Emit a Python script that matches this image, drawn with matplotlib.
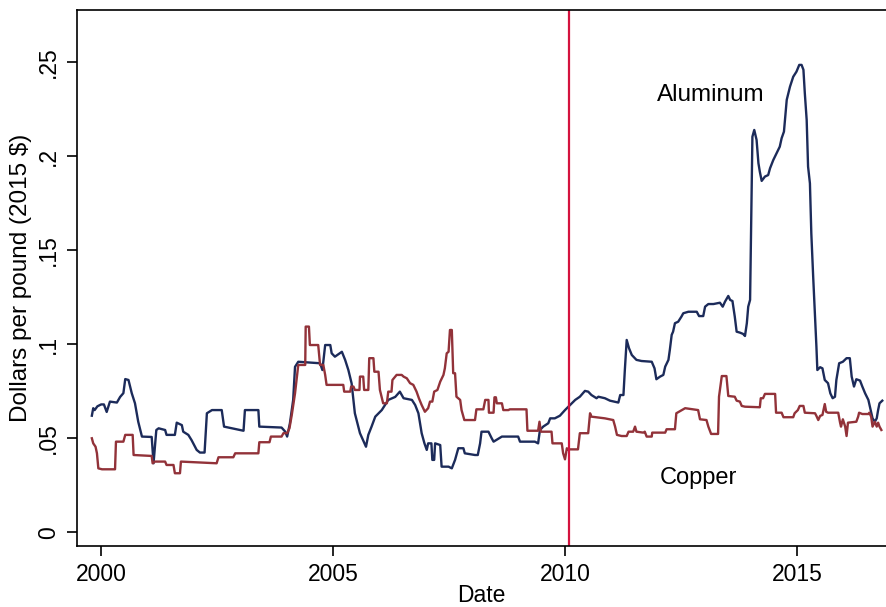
import matplotlib
matplotlib.use("Agg")
import matplotlib.pyplot as plt

plt.rcParams['font.family'] = ['Liberation Sans', 'DejaVu Sans']

alu_year = [1999.80, 1999.83, 1999.86, 1999.92, 2000.00, 2000.06, 2000.12, 2000.19, 2000.34, 2000.41,
            2000.48, 2000.52, 2000.59, 2000.66, 2000.73, 2000.80, 2000.88, 2001.09, 2001.13, 2001.19,
            2001.24, 2001.38, 2001.41, 2001.59, 2001.63, 2001.74, 2001.77, 2001.88, 2001.95, 2002.06,
            2002.13, 2002.23, 2002.28, 2002.39, 2002.60, 2002.65, 2003.07, 2003.10, 2003.39, 2003.41,
            2003.89, 2003.97, 2004.01, 2004.07, 2004.14, 2004.18, 2004.25, 2004.72, 2004.77, 2004.83,
            2004.94, 2004.97, 2005.04, 2005.19, 2005.26, 2005.33, 2005.40, 2005.47, 2005.58, 2005.71,
            2005.76, 2005.83, 2005.91, 2006.05, 2006.19, 2006.34, 2006.44, 2006.52, 2006.70, 2006.77,
            2006.84, 2006.91, 2006.97, 2007.02, 2007.05, 2007.12, 2007.14, 2007.18, 2007.20, 2007.31,
            2007.34, 2007.49, 2007.56, 2007.63, 2007.70, 2007.81, 2007.84, 2008.06, 2008.12, 2008.17,
            2008.20, 2008.35, 2008.42, 2008.46, 2008.64, 2008.99, 2009.03, 2009.35, 2009.42, 2009.46,
            2009.53, 2009.64, 2009.68, 2009.78, 2009.89, 2010.00, 2010.11, 2010.22, 2010.32, 2010.43,
            2010.50, 2010.57, 2010.68, 2010.72, 2010.86, 2010.97, 2011.15, 2011.19, 2011.26, 2011.29,
            2011.33, 2011.38, 2011.44, 2011.54, 2011.65, 2011.87, 2011.93, 2011.97, 2012.05, 2012.12,
            2012.16, 2012.23, 2012.26, 2012.30, 2012.33, 2012.37, 2012.44, 2012.51, 2012.55, 2012.66,
            2012.84, 2012.89, 2012.98, 2013.02, 2013.09, 2013.20, 2013.34, 2013.40, 2013.45, 2013.52,
            2013.56, 2013.61, 2013.66, 2013.70, 2013.77, 2013.84, 2013.88, 2013.92, 2013.95, 2013.99,
            2014.04, 2014.08, 2014.13, 2014.17, 2014.20, 2014.24, 2014.31, 2014.38, 2014.42, 2014.49,
            2014.56, 2014.63, 2014.67, 2014.72, 2014.78, 2014.85, 2014.92, 2014.99, 2015.05, 2015.10,
            2015.14, 2015.17, 2015.21, 2015.24, 2015.28, 2015.31, 2015.35, 2015.42, 2015.44, 2015.50,
            2015.55, 2015.60, 2015.67, 2015.72, 2015.77, 2015.82, 2015.85, 2015.91, 2015.99, 2016.07,
            2016.14, 2016.18, 2016.23, 2016.28, 2016.36, 2016.41, 2016.47, 2016.54, 2016.59, 2016.63,
            2016.68, 2016.72, 2016.75, 2016.78, 2016.84]
alu_price = [0.0620, 0.0660, 0.0650, 0.0670, 0.0680, 0.0680, 0.0640, 0.0695, 0.0690, 0.0720,
             0.0740, 0.0815, 0.0810, 0.0740, 0.0686, 0.0588, 0.0509, 0.0507, 0.0367, 0.0544,
             0.0553, 0.0544, 0.0518, 0.0518, 0.0583, 0.0570, 0.0535, 0.0518, 0.0490, 0.0438,
             0.0424, 0.0424, 0.0633, 0.0650, 0.0650, 0.0562, 0.0540, 0.0650, 0.0650, 0.0562,
             0.0557, 0.0535, 0.0509, 0.0580, 0.0704, 0.0880, 0.0907, 0.0899, 0.0863, 0.0996,
             0.0996, 0.0952, 0.0934, 0.0960, 0.0917, 0.0863, 0.0792, 0.0633, 0.0527, 0.0455,
             0.0518, 0.0562, 0.0615, 0.0650, 0.0704, 0.0720, 0.0748, 0.0713, 0.0704, 0.0677,
             0.0633, 0.0527, 0.0473, 0.0438, 0.0473, 0.0473, 0.0385, 0.0385, 0.0473, 0.0464,
             0.0349, 0.0349, 0.0340, 0.0385, 0.0447, 0.0447, 0.0420, 0.0411, 0.0411, 0.0473,
             0.0535, 0.0535, 0.0500, 0.0482, 0.0509, 0.0509, 0.0482, 0.0482, 0.0473, 0.0544,
             0.0562, 0.0580, 0.0606, 0.0606, 0.0620, 0.0650, 0.0677, 0.0704, 0.0721, 0.0752,
             0.0748, 0.0730, 0.0713, 0.0721, 0.0713, 0.0700, 0.0690, 0.0730, 0.0730, 0.0863,
             0.1023, 0.0979, 0.0943, 0.0917, 0.0911, 0.0907, 0.0872, 0.0814, 0.0828, 0.0837,
             0.0881, 0.0917, 0.0970, 0.1050, 0.1067, 0.1112, 0.1120, 0.1147, 0.1165, 0.1173,
             0.1173, 0.1150, 0.1150, 0.1200, 0.1214, 0.1214, 0.1221, 0.1200, 0.1227, 0.1257,
             0.1236, 0.1230, 0.1147, 0.1067, 0.1062, 0.1055, 0.1044, 0.1112, 0.1200, 0.1236,
             0.2104, 0.2140, 0.2087, 0.1963, 0.1918, 0.1869, 0.1892, 0.1900, 0.1936, 0.1980,
             0.2016, 0.2051, 0.2096, 0.2131, 0.2300, 0.2370, 0.2423, 0.2450, 0.2486, 0.2486,
             0.2460, 0.2335, 0.2193, 0.1945, 0.1856, 0.1590, 0.1360, 0.0987, 0.0863, 0.0878,
             0.0872, 0.0810, 0.0793, 0.0739, 0.0713, 0.0721, 0.0810, 0.0899, 0.0907, 0.0926,
             0.0926, 0.0828, 0.0775, 0.0814, 0.0807, 0.0775, 0.0739, 0.0704, 0.0650, 0.0606,
             0.0588, 0.0606, 0.0650, 0.0686, 0.0700]

cu_year = [1999.80, 1999.83, 1999.88, 1999.91, 1999.94, 2000.02, 2000.30, 2000.32, 2000.48, 2000.52,
           2000.68, 2000.70, 2001.09, 2001.11, 2001.16, 2001.38, 2001.41, 2001.56, 2001.59, 2001.70,
           2001.72, 2002.49, 2002.53, 2002.85, 2002.89, 2003.39, 2003.41, 2003.63, 2003.66, 2003.89,
           2003.93, 2004.01, 2004.06, 2004.11, 2004.18, 2004.25, 2004.40, 2004.41, 2004.48, 2004.50,
           2004.68, 2004.72, 2004.79, 2004.83, 2004.86, 2005.22, 2005.24, 2005.37, 2005.39, 2005.44,
           2005.47, 2005.57, 2005.58, 2005.65, 2005.67, 2005.76, 2005.78, 2005.87, 2005.89, 2005.98,
           2006.01, 2006.08, 2006.16, 2006.19, 2006.26, 2006.28, 2006.37, 2006.48, 2006.52, 2006.59,
           2006.66, 2006.73, 2006.80, 2006.85, 2006.91, 2006.98, 2007.05, 2007.09, 2007.14, 2007.18,
           2007.25, 2007.31, 2007.38, 2007.41, 2007.45, 2007.49, 2007.52, 2007.56, 2007.59, 2007.63,
           2007.66, 2007.74, 2007.77, 2007.83, 2008.06, 2008.09, 2008.24, 2008.28, 2008.35, 2008.36,
           2008.46, 2008.48, 2008.51, 2008.53, 2008.64, 2008.67, 2008.78, 2008.81, 2009.17, 2009.19,
           2009.42, 2009.45, 2009.48, 2009.71, 2009.73, 2009.93, 2009.96, 2010.00, 2010.04, 2010.06,
           2010.28, 2010.32, 2010.50, 2010.54, 2010.57, 2010.86, 2011.04, 2011.08, 2011.12, 2011.22,
           2011.33, 2011.37, 2011.47, 2011.51, 2011.54, 2011.69, 2011.72, 2011.76, 2011.87, 2011.88,
           2012.16, 2012.19, 2012.37, 2012.40, 2012.55, 2012.59, 2012.87, 2012.91, 2013.05, 2013.09,
           2013.15, 2013.30, 2013.32, 2013.38, 2013.48, 2013.52, 2013.66, 2013.70, 2013.77, 2013.81,
           2013.88, 2014.20, 2014.22, 2014.27, 2014.31, 2014.53, 2014.55, 2014.67, 2014.71, 2014.92,
           2014.95, 2015.02, 2015.06, 2015.14, 2015.17, 2015.39, 2015.42, 2015.46, 2015.50, 2015.55,
           2015.60, 2015.63, 2015.67, 2015.89, 2015.93, 2015.95, 2015.99, 2016.04, 2016.07, 2016.10,
           2016.28, 2016.32, 2016.34, 2016.41, 2016.54, 2016.56, 2016.60, 2016.63, 2016.68, 2016.72,
           2016.75, 2016.78, 2016.82]
cu_price = [0.0500, 0.0473, 0.0455, 0.0420, 0.0340, 0.0335, 0.0335, 0.0482, 0.0482, 0.0518,
            0.0518, 0.0411, 0.0406, 0.0367, 0.0376, 0.0376, 0.0358, 0.0358, 0.0314, 0.0314,
            0.0376, 0.0367, 0.0399, 0.0399, 0.0420, 0.0420, 0.0479, 0.0479, 0.0509, 0.0509,
            0.0527, 0.0527, 0.0553, 0.0624, 0.0739, 0.0890, 0.0890, 0.1094, 0.1094, 0.0996,
            0.0996, 0.0890, 0.0890, 0.0837, 0.0784, 0.0784, 0.0748, 0.0748, 0.0775, 0.0775,
            0.0757, 0.0757, 0.0828, 0.0828, 0.0757, 0.0757, 0.0926, 0.0926, 0.0854, 0.0854,
            0.0757, 0.0686, 0.0686, 0.0748, 0.0748, 0.0810, 0.0837, 0.0837, 0.0828, 0.0819,
            0.0793, 0.0784, 0.0748, 0.0713, 0.0677, 0.0641, 0.0660, 0.0695, 0.0695, 0.0748,
            0.0757, 0.0801, 0.0837, 0.0872, 0.0952, 0.0960, 0.1076, 0.1076, 0.0846, 0.0846,
            0.0721, 0.0704, 0.0650, 0.0597, 0.0597, 0.0654, 0.0654, 0.0704, 0.0704, 0.0636,
            0.0636, 0.0718, 0.0718, 0.0686, 0.0686, 0.0650, 0.0650, 0.0654, 0.0654, 0.0540,
            0.0540, 0.0588, 0.0535, 0.0535, 0.0473, 0.0473, 0.0420, 0.0388, 0.0447, 0.0441,
            0.0441, 0.0527, 0.0527, 0.0633, 0.0615, 0.0606, 0.0597, 0.0562, 0.0518, 0.0512,
            0.0512, 0.0535, 0.0535, 0.0562, 0.0535, 0.0530, 0.0535, 0.0509, 0.0509, 0.0530,
            0.0530, 0.0548, 0.0548, 0.0633, 0.0654, 0.0660, 0.0650, 0.0601, 0.0597, 0.0562,
            0.0523, 0.0523, 0.0721, 0.0831, 0.0831, 0.0725, 0.0721, 0.0700, 0.0695, 0.0672,
            0.0668, 0.0665, 0.0713, 0.0713, 0.0736, 0.0736, 0.0636, 0.0636, 0.0612, 0.0612,
            0.0633, 0.0650, 0.0672, 0.0672, 0.0636, 0.0633, 0.0619, 0.0597, 0.0619, 0.0624,
            0.0682, 0.0641, 0.0636, 0.0636, 0.0583, 0.0562, 0.0601, 0.0562, 0.0512, 0.0583,
            0.0588, 0.0615, 0.0636, 0.0629, 0.0629, 0.0636, 0.0615, 0.0562, 0.0588, 0.0562,
            0.0583, 0.0562, 0.0544]

event_year = 2010.09
x_ticks = [2000, 2005, 2010, 2015]
y_ticks = [0, 0.05, 0.10, 0.15, 0.20, 0.25]
y_tick_labels = ["0", ".05", ".1", ".15", ".2", ".25"]

fig = plt.figure(figsize=(8.86, 6.07), dpi=100)
ax = fig.add_axes([77/886, 61/607, 1 - 77/886, (546 - 10)/607])

ax.plot(alu_year, alu_price, color="#1c2b5a", lw=1.7)
ax.plot(cu_year, cu_price, color="#923239", lw=1.7)
ax.axvline(event_year, color="#d4123e", lw=1.6)

ax.set_xlim(1999.48, 2016.92)
ax.set_ylim(-0.0073, 0.2778)
ax.set_xticks(x_ticks)
ax.set_xticklabels([str(t) for t in x_ticks])
ax.set_yticks(y_ticks)
ax.set_yticklabels(y_tick_labels, rotation=90, va="center")

ax.tick_params(axis="both", labelsize=16.5, length=7, width=1.2, pad=5, colors="black")
for s in ["left", "bottom", "top"]:
    ax.spines[s].set_linewidth(1.2)
ax.spines["right"].set_visible(False)

ax.set_xlabel("Date", fontsize=16.5, labelpad=-1)
ax.set_ylabel("Dollars per pound (2015 $)", fontsize=17.5, labelpad=4)

ax.text(2011.98, 0.2326, "Aluminum", fontsize=17.5, ha="left", va="center")
ax.text(2012.05, 0.0289, "Copper", fontsize=17, ha="left", va="center")

fig.savefig("out.png", dpi=100)
